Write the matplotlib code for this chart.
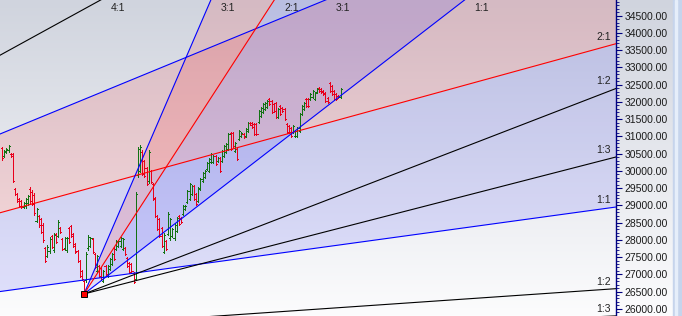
import numpy as np
import matplotlib
matplotlib.use("Agg")
import matplotlib.pyplot as plt
from matplotlib.collections import LineCollection
from matplotlib.ticker import MultipleLocator, FormatStrFormatter

plt.rcParams['font.family'] = ['Liberation Sans', 'DejaVu Sans']

# daily OHLC bars
opens = [30650, 30430, 30540, 30600, 30500, 30480, 29480, 29330, 29180, 29120,
         28950, 28990, 29060, 29470, 29400, 29300, 28560, 28690, 28600, 28440,
         27750, 27540, 27680, 28100, 27700, 28160, 28120, 28340, 28020, 27750,
         27700, 28330, 28400, 28160, 27880, 27670, 27380, 27090, 26800,
         26830, 27750, 27830, 28020, 27580, 27110, 27240, 27180, 26820, 27240, 26960,
         27160, 27310, 27760, 27740, 27820, 27830, 27740, 27770, 27470, 27330, 27300, 27040,
         26870, 29870, 30000, 30560, 30280, 30080, 29700, 29990,
         29610, 29200, 28690, 28600, 28330, 27660, 27960, 28180, 28040, 28110, 28040, 28260,
         28690, 28640, 28750, 28890, 29100, 29190, 29330, 29560, 29330, 29130,
         29480, 29710, 29820, 30050, 30000, 30260, 30260, 30430, 30280, 30370,
         30290, 30430, 30550, 30640, 31090, 31090, 30580, 30630, 30930, 31000,
         31080, 31010, 31160, 31400, 31400, 31360, 31360, 31420, 31590, 31710, 31790,
         31850, 32090, 32030, 31940, 31970, 31560, 31880, 31830, 31800, 31360, 31300, 31240,
         31130, 31010, 31010, 31160, 31650, 31790, 32090, 32090, 32080, 32140, 32080,
         32280, 32410, 32380, 32320, 32260, 32120, 32550, 32460, 32320, 32230, 32180, 32140]
highs = [30692, 30605, 30650, 30750, 30518, 30518, 29503, 29358, 29213, 29155,
         29097, 29213, 29300, 29532, 29445, 29358, 28923, 28720, 28633, 28488,
         27792, 27850, 28082, 28140, 28198, 28198, 28575, 28372, 28053, 28082,
         28082, 28372, 28430, 28198, 27908, 27705, 27415, 27125, 26835,
         27647, 28140, 28082, 28053, 27618, 27560, 27270, 27212, 27125, 27270, 27270,
         27473, 27618, 27792, 27995, 27995, 28082, 28053, 27792, 27502, 27357, 27328, 27067,
         29387, 30692, 30750, 30605, 30315, 30112, 30605, 30025,
         29648, 29242, 28720, 28633, 28372, 28198, 27995, 28807, 28633, 28343, 28488, 28662,
         28720, 28662, 29010, 29010, 29445, 29648, 29590, 29590, 29358, 29532,
         29793, 29967, 30025, 30257, 30373, 30518, 30460, 30460, 30402, 30402,
         30605, 30750, 30808, 31098, 31127, 31127, 30837, 30663, 31185, 31127,
         31098, 31243, 31417, 31417, 31417, 31388, 31388, 31765, 31852, 31968, 31997,
         32055, 32113, 32055, 31968, 31997, 31823, 31910, 31852, 31823, 31388, 31330, 31272,
         31330, 31185, 31272, 31678, 31910, 31997, 32113, 32113, 32258, 32345, 32287,
         32403, 32432, 32403, 32345, 32287, 32142, 32577, 32490, 32345, 32258, 32200, 32403]
lows = [30315, 30402, 30518, 30547, 30402, 29677, 29300, 29097, 28952, 28923,
        28923, 28923, 29010, 29068, 29010, 28720, 28517, 28372, 28198, 27937,
        27357, 27502, 27618, 27763, 27647, 27908, 28082, 28198, 27705, 27705,
        27647, 27908, 28082, 27792, 27618, 27357, 26922, 26835, 26430,
        26777, 27705, 27792, 27618, 27183, 27067, 26922, 26835, 26777, 26980, 26922,
        27125, 27270, 27415, 27705, 27792, 27792, 27705, 27560, 27212, 27038, 27067, 26748,
        26835, 29822, 29967, 29880, 29822, 29590, 29648, 29648,
        29155, 28662, 28285, 28082, 27792, 27618, 27705, 28140, 27995, 28082, 27995, 28227,
        28430, 28488, 28720, 28865, 29068, 29155, 29300, 29155, 29010, 29097,
        29445, 29677, 29793, 30025, 29967, 30228, 30228, 30170, 30257, 29967,
        30257, 30402, 30518, 30605, 30605, 30692, 30547, 30315, 30895, 30982,
        30953, 30982, 31127, 31330, 31243, 31040, 31040, 31388, 31562, 31678, 31765,
        31823, 31910, 31678, 31707, 31533, 31533, 31620, 31707, 31475, 31098, 31098, 30982,
        31098, 30982, 30982, 31127, 31620, 31765, 31852, 31852, 32055, 32113, 32055,
        32258, 32287, 32258, 32200, 31997, 31968, 32287, 32200, 32055, 32055, 32113, 32113]
closes = [30380, 30580, 30630, 30720, 30420, 29720, 29330, 29130, 28990, 28960,
          29070, 29180, 29270, 29120, 29050, 28780, 28880, 28420, 28240, 27990,
          27400, 27800, 28030, 27800, 28150, 27950, 28530, 28230, 27740, 28040,
          28040, 27950, 28120, 27830, 27650, 27400, 26960, 26870, 26500,
          27600, 28090, 28050, 27650, 27220, 27520, 26960, 26870, 27090, 27010, 27240,
          27440, 27580, 27450, 27960, 27970, 28050, 28020, 27590, 27240, 27070, 27100, 26780,
          29340, 30640, 30700, 29920, 29860, 29630, 30560, 29680,
          29190, 28700, 28320, 28120, 27830, 28150, 27740, 28760, 28590, 28310, 28440, 28630,
          28460, 28510, 28980, 28990, 29410, 29610, 29560, 29190, 29040, 29500,
          29760, 29940, 30000, 30230, 30340, 30490, 30430, 30200, 30380, 30000,
          30570, 30720, 30780, 31060, 30640, 30730, 30810, 30350, 31160, 31110,
          30980, 31220, 31390, 31340, 31270, 31070, 31070, 31740, 31830, 31940, 31970,
          32030, 31930, 31710, 31740, 31570, 31800, 31650, 31730, 31500, 31130, 31130, 31010,
          31300, 31160, 31240, 31640, 31880, 31970, 31880, 31880, 32230, 32320, 32260,
          32380, 32310, 32280, 32220, 32030, 31990, 32320, 32230, 32080, 32080, 32130, 32380]

# gann fans: anchor bar, anchor price, price per bar of the 1:1 line
fan_names = ["4:1", "3:1", "2:1", "1:1", "1:2", "1:3"]
fan_factors = [4, 3, 2, 1, 1 / 2, 1 / 3]
fan_colors = ["black", "blue", "red", "blue", "black", "black"]
fan_low = {"bar": 38, "price": 26430, "step": 48.3, "lines": ["3:1", "2:1", "1:1", "1:2", "1:3"]}
fan_far = {"bar": -267.2, "price": 24216, "step": 8.58, "lines": fan_names}

x_min, x_max = -0.96, 284.75
y_min, y_max = 25791, 34955

fig = plt.figure(figsize=(6.82, 3.16), dpi=100)

# grey-to-white background behind everything
bg = fig.add_axes([0, 0, 1, 1])
top = np.array([208, 212, 222]) / 255.0
bottom = np.array([252, 252, 253]) / 255.0
t = np.linspace(0, 1, 316)[:, None, None]
bg.imshow(top * (1 - t) + bottom * t, aspect="auto", extent=[0, 1, 0, 1])
bg.add_patch(plt.Rectangle((673 / 682, 0), 9 / 682, 1, color="#c6d4ec", zorder=3))
bg.add_patch(plt.Rectangle((675 / 682, 0), 2 / 682, 1, color="#e6eefa", zorder=4))
bg.set_xlim(0, 1)
bg.set_ylim(0, 1)
bg.axis("off")

ax = fig.add_axes([0, 0, 616 / 682, 1])
ax.patch.set_alpha(0)
ax.set_xlim(x_min, x_max)
ax.set_ylim(y_min, y_max)


def fan_price(fan, name, x):
    k = fan_factors[fan_names.index(name)]
    return fan["price"] + k * fan["step"] * (np.asarray(x) - fan["bar"])


for fan in (fan_far, fan_low):
    xs = np.array([fan["bar"], x_max + 20])
    ax.fill_between(xs, fan_price(fan, "3:1", xs), fan_price(fan, "2:1", xs),
                    color="red", alpha=0.12, lw=0, zorder=1)
    ax.fill_between(xs, fan_price(fan, "2:1", xs), fan_price(fan, "1:1", xs),
                    color="blue", alpha=0.10, lw=0, zorder=1)

# OHLC bars
segs, cols = [], []
for i in range(len(closes)):
    c = "#137213" if closes[i] >= opens[i] else "#e8001c"
    segs += [[(i, lows[i]), (i, highs[i])],
             [(i - 0.5, opens[i]), (i, opens[i])],
             [(i, closes[i]), (i + 0.5, closes[i])]]
    cols += [c, c, c]
ax.add_collection(LineCollection(segs, colors=cols, linewidths=0.72, antialiased=False, zorder=3))

# fan lines and their labels
for fan in (fan_far, fan_low):
    for name in fan["lines"]:
        col = fan_colors[fan_names.index(name)]
        xs = np.array([fan["bar"], x_max + 20])
        ax.plot(xs, fan_price(fan, name, xs), color=col, lw=0.8, zorder=4)
        end = fan_price(fan, name, x_max)
        if end > y_max:
            k = fan_factors[fan_names.index(name)]
            x_hit = fan["bar"] + (y_max - fan["price"]) / (k * fan["step"])
            ax.annotate(name, (x_hit, y_max), xytext=(10, -8), textcoords="offset pixels",
                        ha="left", va="center", fontsize=7.5, color="#222222", zorder=5)
        else:
            ax.annotate(name, (x_max, end), xytext=(-5, 7), textcoords="offset pixels",
                        ha="right", va="center", fontsize=7.5, color="#222222", zorder=5)

ax.plot(fan_low["bar"], fan_low["price"], "s", ms=4.5, mfc="red", mec="black", mew=0.7, zorder=6)

for side in ("left", "top", "bottom"):
    ax.spines[side].set_visible(False)
ax.spines["right"].set_color("navy")
ax.spines["right"].set_linewidth(1.0)
ax.set_xticks([])
ax.yaxis.tick_right()
ax.yaxis.set_major_locator(MultipleLocator(500))
ax.yaxis.set_minor_locator(MultipleLocator(100))
ax.yaxis.set_major_formatter(FormatStrFormatter("%.2f"))
ax.tick_params(axis="y", which="major", length=4, width=0.8, color="navy",
               labelsize=7.5, pad=2, labelcolor="#1a1a1a")
ax.tick_params(axis="y", which="minor", length=2, width=0.6, color="navy")

fig.savefig("out.png", dpi=100)
